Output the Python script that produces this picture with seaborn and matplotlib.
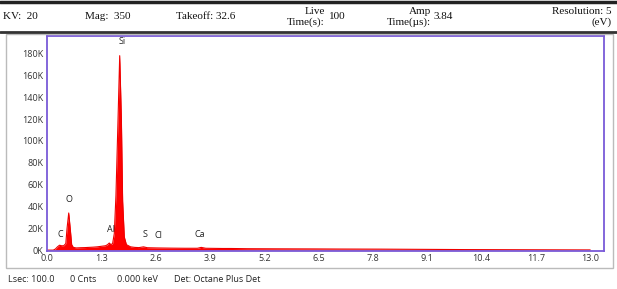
import matplotlib
matplotlib.use("Agg")
import matplotlib.pyplot as plt
import pandas as pd
import seaborn as sns
from matplotlib.patches import Rectangle
from matplotlib.lines import Line2D

# spectrum (keV, counts)
energy = [0.0, 0.15, 0.2, 0.25, 0.3, 0.35, 0.4, 0.45, 0.48, 0.52, 0.56, 0.59, 0.63,
          0.7, 0.8, 0.9, 1.0, 1.1, 1.2, 1.3, 1.4, 1.45, 1.49, 1.53, 1.57, 1.61,
          1.65, 1.70, 1.74, 1.78, 1.81, 1.85, 1.9, 2.0, 2.1, 2.2, 2.31, 2.4, 2.62,
          2.8, 3.0, 3.3, 3.6, 3.69, 3.8, 4.0, 4.2, 4.4, 4.8, 5.5, 6.4, 7.0, 8.0,
          9.0, 10.0, 11.0, 12.0, 13.0]
counts = [0, 0, 1000, 3000, 4500, 4000, 4000, 6000, 20000, 34000, 18000, 5000, 2500,
          2000, 2200, 2300, 2500, 2700, 3000, 3500, 4000, 5000, 6500, 5000, 6000, 15000,
          50000, 120000, 178000, 120000, 45000, 12000, 5000, 3000, 2500, 2300, 3000, 2200, 2000,
          1900, 1800, 1700, 1700, 2500, 1700, 1600, 1500, 1500, 1300, 1200, 1100, 1000, 900,
          700, 500, 400, 300, 200]

elements = ["C", "O", "Al", "Si", "S", "Cl", "Ca"]
elem_x = [0.31, 0.53, 1.53, 1.80, 2.35, 2.66, 3.66]
elem_y = [10000, 42000, 14500, 187000, 10000, 9000, 10000]

xticks = [0.0, 1.3, 2.6, 3.9, 5.2, 6.5, 7.8, 9.1, 10.4, 11.7, 13.0]
yticks = [0, 20000, 40000, 60000, 80000, 100000, 120000, 140000, 160000, 180000]

sns.set_style("white")
plt.rcParams['font.family'] = ['Open Sans', 'DejaVu Sans']

df = pd.DataFrame({"keV": energy, "cnts": counts})

fig = plt.figure(figsize=(6.17, 2.89), dpi=100)
W, H = 617, 289

# header
fig.add_artist(Line2D([0, 1], [1 - 2 / H, 1 - 2 / H], color="#222222", lw=2.5))
fig.add_artist(Line2D([0, 1], [1 - 32 / H, 1 - 32 / H], color="#333333", lw=2))
hdr = dict(family="Liberation Serif", fontsize=8, color="#111111")
fig.text(3 / W, 1 - 19 / H, "KV:  20", **hdr)
fig.text(85 / W, 1 - 19 / H, "Mag:  350", **hdr)
fig.text(176 / W, 1 - 19 / H, "Takeoff: 32.6", **hdr)
fig.text(325 / W, 1 - 14 / H, "Live", ha="right", **hdr)
fig.text(325 / W, 1 - 25 / H, "Time(s):", ha="right", **hdr)
fig.text(329 / W, 1 - 19 / H, "100", **hdr)
fig.text(431 / W, 1 - 14 / H, "Amp", ha="right", **hdr)
fig.text(431 / W, 1 - 25 / H, "Time(µs):", ha="right", **hdr)
fig.text(434 / W, 1 - 19 / H, "3.84", **hdr)
fig.text(612 / W, 1 - 14 / H, "Resolution: 5", ha="right", **hdr)
fig.text(612 / W, 1 - 25 / H, "(eV)", ha="right", **hdr)

# gray frame around plot
fig.add_artist(Rectangle((6 / W, 1 - 268 / H), 607 / W, 234 / H, fill=False,
                         ec="#bbbbbb", lw=1, transform=fig.transFigure))

ax = fig.add_axes([47 / W, 1 - 251 / H, 557 / W, 215 / H])
sns.lineplot(data=df, x="keV", y="cnts", ax=ax, color="#ee0000", lw=0.8)
ax.fill_between(df["keV"], df["cnts"], color="#ff0000", lw=0)
ax.set_xlim(0, 13.33)
ax.set_ylim(-800, 196000)
ax.set_xticks(xticks)
ax.set_xticklabels([f"{v:.1f}" for v in xticks])
ax.set_yticks(yticks)
ax.set_yticklabels([f"{int(v / 1000)}K" for v in yticks])
ax.tick_params(labelsize=6.5, colors="#333333", length=1.5, width=0.6, pad=1)
ax.set_xlabel("")
ax.set_ylabel("")
for s in ax.spines.values():
    s.set_color("#7a5ad8")
    s.set_linewidth(1.3)

for name, x, y in zip(elements, elem_x, elem_y):
    ax.text(x, y, name, fontsize=6.5, ha="center", va="bottom", color="#222222")

ftr = dict(fontsize=6.5, color="#222222", va="center")
fig.text(8 / W, 1 - 279 / H, "Lsec: 100.0", **ftr)
fig.text(70 / W, 1 - 279 / H, "0 Cnts", **ftr)
fig.text(117 / W, 1 - 279 / H, "0.000 keV", **ftr)
fig.text(174 / W, 1 - 279 / H, "Det: Octane Plus Det", **ftr)

fig.savefig("out.png", dpi=100)
